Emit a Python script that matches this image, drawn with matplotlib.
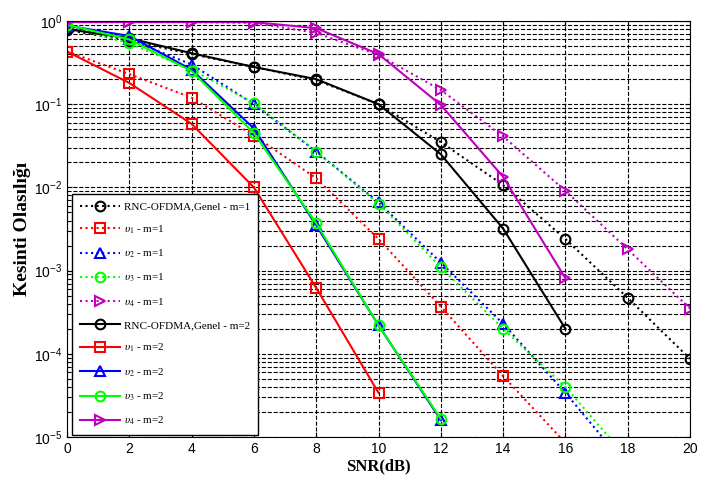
import matplotlib.pyplot as plt
from matplotlib.ticker import LogLocator, NullFormatter

snr = [0, 2, 4, 6, 8, 10, 12, 14, 16, 18, 20]

# m=1 (noktalı)
genel_m1 = [0.78, 0.58, 0.40, 0.28, 0.195, 0.10, 0.035, 0.0107, 0.0024, 0.00047, 0.000087]
u1_m1 = [0.43, 0.23, 0.12, 0.042, 0.0129, 0.0024, 0.00037, 0.000054, 0.0000085]
u2_m1 = [0.85, 0.60, 0.30, 0.10, 0.027, 0.0066, 0.00125, 0.00023, 0.000034, 0.0000043]
u3_m1 = [0.86, 0.54, 0.26, 0.103, 0.027, 0.0064, 0.0011, 0.00020, 0.000040, 0.0000055]
u4_m1 = [0.97, 0.97, 0.97, 0.95, 0.72, 0.39, 0.148, 0.041, 0.0091, 0.0018, 0.00035]

# m=2 (düz)
genel_m2 = [0.80, 0.62, 0.41, 0.28, 0.20, 0.10, 0.025, 0.0032, 0.0002]
u1_m2 = [0.43, 0.18, 0.058, 0.010, 0.00062, 0.000034]
u2_m2 = [0.88, 0.66, 0.26, 0.051, 0.0035, 0.00022, 0.0000160]
u3_m2 = [0.90, 0.60, 0.25, 0.045, 0.0037, 0.00022, 0.0000165]
u4_m2 = [0.97, 0.97, 0.97, 0.97, 0.82, 0.40, 0.098, 0.0134, 0.00081]

labels = ['RNC-OFDMA,Genel - m=1', r'$\upsilon_1$ - m=1', r'$\upsilon_2$ - m=1',
          r'$\upsilon_3$ - m=1', r'$\upsilon_4$ - m=1',
          'RNC-OFDMA,Genel - m=2', r'$\upsilon_1$ - m=2', r'$\upsilon_2$ - m=2',
          r'$\upsilon_3$ - m=2', r'$\upsilon_4$ - m=2']

plt.rcParams['mathtext.fontset'] = 'stix'

fig = plt.figure(figsize=(7.07, 4.84), dpi=100)
ax = fig.add_axes([0.0948, 0.097, 0.8812, 0.8596])

series = [
    (genel_m1, 'k', 'o', ':'), (u1_m1, 'r', 's', ':'), (u2_m1, 'b', '^', ':'),
    (u3_m1, '#00ff00', 'o', ':'), (u4_m1, 'm', '>', ':'),
    (genel_m2, 'k', 'o', '-'), (u1_m2, 'r', 's', '-'), (u2_m2, 'b', '^', '-'),
    (u3_m2, '#00ff00', 'o', '-'), (u4_m2, 'm', '>', '-'),
]
for (vals, c, mk, ls), lab in zip(series, labels):
    ax.semilogy(snr[:len(vals)], vals, color=c, marker=mk, linestyle=ls,
                linewidth=1.5, markersize=7, markerfacecolor='none',
                markeredgewidth=1.5, label=lab)

ax.set_xlim(0, 20)
ax.set_ylim(1e-5, 1)
ax.set_xticks(range(0, 21, 2))
ax.yaxis.set_major_locator(LogLocator(base=10, numticks=10))
ax.yaxis.set_minor_locator(LogLocator(base=10, subs=range(2, 10), numticks=20))
ax.yaxis.set_minor_formatter(NullFormatter())
ax.grid(True, which='major', linestyle='--', color='k', linewidth=0.8)
ax.grid(True, which='minor', axis='y', linestyle='--', color='k', linewidth=0.8)
ax.tick_params(which='both', direction='in', top=True, right=True, labelsize=10)
for lab in ax.get_xticklabels() + ax.get_yticklabels():
    lab.set_family('Liberation Sans')

ax.set_xlabel('SNR(dB)', family='Liberation Serif', fontweight='bold', fontsize=12, labelpad=2)
ax.set_ylabel('Kesinti Olasılığı', family='Liberation Serif', fontweight='bold', fontsize=14, labelpad=2)

leg = ax.legend(loc='lower left', bbox_to_anchor=(0.008, 0.005), fancybox=False,
                edgecolor='k', framealpha=1, handlelength=3.6, labelspacing=1.06,
                handletextpad=0.4, borderaxespad=0, borderpad=0.7,
                prop={'family': 'Liberation Serif', 'size': 8})
leg.get_frame().set_linewidth(1.0)

fig.savefig('out.png', dpi=100)
